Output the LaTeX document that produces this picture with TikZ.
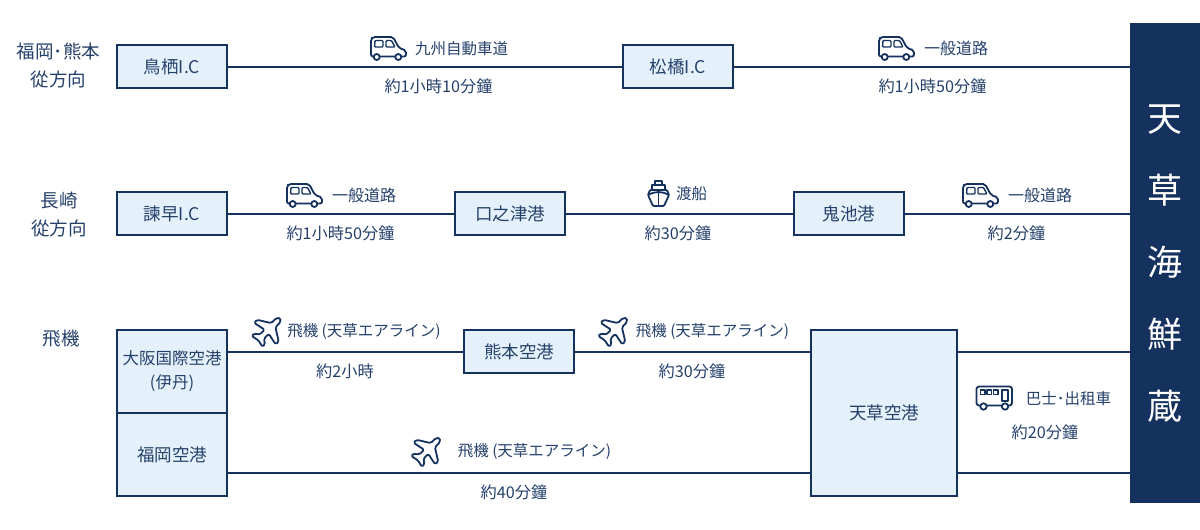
\documentclass[tikz,border=0pt]{standalone}
\usepackage{fontspec}
\setmainfont{Noto Sans CJK JP}
\usetikzlibrary{positioning}
\definecolor{navy}{HTML}{15325F}
\definecolor{ink}{HTML}{25406B}
\definecolor{pale}{HTML}{E4F1FA}
\tikzset{
    box/.style = {
        draw=navy,
        fill=pale,
        line width=2.4pt,
        text=ink,
        minimum width=109.6pt,
        minimum height=42.6pt,
        inner sep=0pt,
        align=center,
        font=\fontsize{17.5}{24}\selectfont
    },
    route/.style = {draw=navy, line width=2pt},
    lbl/.style = {text=ink, inner sep=0pt, text height=13pt, text depth=2.5pt, font=\fontsize{15.5}{20}\selectfont},
    timelbl/.style = {lbl, font=\fontsize{16.2}{20}\selectfont},
    side/.style = {text=ink, inner sep=0pt, align=center, font=\fontsize{18.5}{28}\selectfont},
    glyph/.style = {draw=navy, line width=1.8pt, line join=round, fill=white},
    carmark/.pic = {
        \path[glyph, rounded corners=2pt] (1,20.5) -- (1,3) -- (3,1) -- (23,1) -- (29,12) -- (36,14.5) -- (36,20.5) -- cycle;
        \path[glyph, line width=1.4pt, rounded corners=1pt] (5,4.5) -- (13,4.5) -- (13,11) -- (4.5,11) -- cycle;
        \path[glyph, line width=1.4pt, rounded corners=1pt] (16,4.5) -- (21.5,4.5) -- (25,11) -- (16,11) -- cycle;
        \path[glyph] (6.7,21) circle (3);
        \path[glyph] (28.3,21) circle (3);
    },
    shipmark/.pic = {
        \path[glyph] (7,0) rectangle (14,4);
        \path[glyph] (4,4) rectangle (17,9);
        \path[glyph, rounded corners=1pt] (2,9) -- (19,9) -- (21,14) -- (16,25) -- (5,25) -- (0,14) -- cycle;
        \path[glyph, fill=none] (0,14) .. controls (4,12) and (7,11) .. (10.5,11) .. controls (14,11) and (17,12) .. (21,14);
        \path[glyph, fill=none] (10.5,11) -- (10.5,25);
    },
    planemark/.pic = {
        \path[glyph, rotate=45, scale=.85, rounded corners=1.5pt] (20,0) -- (16,3.5) -- (8,3.5) -- (-1,18) -- (-6,18) -- (-3,3.5) -- (-11,3.5) -- (-15,9)
            -- (-19,9) -- (-17,0) -- (-19,-9) -- (-15,-9) -- (-11,-3.5) -- (-3,-3.5) -- (-6,-18) -- (-1,-18) -- (8,-3.5) -- (16,-3.5) -- cycle;
    },
    busmark/.pic = {
        \path[glyph, rounded corners=2.5pt] (0.5,0.5) rectangle (36,19.5);
        \path[glyph, line width=1.4pt] (4.5,4) rectangle (9,8.5);
        \path[glyph, line width=1.4pt] (11,4) rectangle (15.5,8.5);
        \path[glyph, line width=1.4pt] (17.5,4) rectangle (22,8.5);
        \path[glyph, line width=1.4pt] (26,4) rectangle (32,15);
        \path[glyph] (7.5,20.5) circle (3.2);
        \path[glyph] (29,20.5) circle (3.2);
    }
}
\begin{document}
\begin{tikzpicture}[x=1pt,y=-1pt]
    \useasboundingbox (0,0) rectangle (1200,530);

    % right panel
    \node[fill=navy, text=white, minimum width=70pt, minimum height=480pt, inner sep=0pt, align=center,
        font=\fontsize{35}{72}\selectfont, anchor=north west] (amakusa) at (1130,23) {天\\草\\海\\鮮\\蔵};

    % boxes
    \node[box, anchor=north west] (tosu) at (116,44) {鳥栖I.C};
    \node[box, right=394pt of tosu] (matsuhashi) {松橋I.C};
    \node[box, below=102pt of tosu] (isahaya) {諫早I.C};
    \node[box, right=226pt of isahaya] (kuchinotsu) {口之津港};
    \node[box, right=227pt of kuchinotsu] (oniike) {鬼池港};
    \node[box, below=93pt of isahaya, minimum height=82.8pt, font=\fontsize{16.5}{24}\selectfont] (itami) {大阪国際空港\\(伊丹)};
    \node[box, below=-2.4pt of itami, minimum height=82.8pt] (fukuoka) {福岡空港};
    \node[box, right=235pt of itami.north east, anchor=north west] (kumamoto) {熊本空港};
    \node[box, right=235pt of kumamoto.north east, anchor=north west, minimum width=145.6pt, minimum height=165.6pt] (airport) {天草空港};
    \coordinate (lowrow) at (0,473);

    % routes
    \draw[route] (tosu) -- (matsuhashi);
    \draw[route] (matsuhashi) -- (matsuhashi -| amakusa.west);
    \draw[route] (isahaya) -- (kuchinotsu);
    \draw[route] (kuchinotsu) -- (oniike);
    \draw[route] (oniike) -- (oniike -| amakusa.west);
    \draw[route] (itami.east |- kumamoto) -- (kumamoto);
    \draw[route] (kumamoto) -- (kumamoto -| airport.west);
    \draw[route] (airport.east |- kumamoto) -- (amakusa.west |- kumamoto);
    \draw[route] (fukuoka.east |- lowrow) -- (airport.west |- lowrow);
    \draw[route] (airport.east |- lowrow) -- (amakusa.west |- lowrow);

    % left captions
    \node[side] (fromfukuoka) at (58.5,65) {福岡･熊本\\從方向};
    \node[side] (fromnagasaki) at (59,215) {長崎\\從方向};
    \node[side] (byplane) at (61,339) {飛機};

    % row 1
    \pic at (370,36) {carmark};
    \node[lbl] (expressway) at (461.5,49) {九州自動車道};
    \node[timelbl] (time1) at (438.5,87) {約1小時10分鐘};
    \pic at (878,36) {carmark};
    \node[lbl, font=\fontsize{16}{20}\selectfont] (road1) at (956,49) {一般道路};
    \node[timelbl] (time2) at (932.5,87) {約1小時50分鐘};

    % row 2
    \pic at (286,183) {carmark};
    \node[lbl, font=\fontsize{16}{20}\selectfont] (road2) at (364,196) {一般道路};
    \node[timelbl] (time3) at (340.5,234) {約1小時50分鐘};
    \pic at (648,181) {shipmark};
    \node[lbl] (ferry) at (691.5,194) {渡船};
    \node[timelbl] (time4) at (678,234) {約30分鐘};
    \pic at (962,183) {carmark};
    \node[lbl, font=\fontsize{16}{20}\selectfont] (road3) at (1040,196) {一般道路};
    \node[timelbl] (time5) at (1016.5,234) {約2分鐘};

    % row 3
    \pic at (268.5,330) {planemark};
    \node[lbl] (flight1) at (364,331) {飛機 (天草エアライン)};
    \node[timelbl] (time6) at (345,372) {約2小時};
    \pic at (615,330) {planemark};
    \node[lbl] (flight2) at (712.5,331) {飛機 (天草エアライン)};
    \node[timelbl] (time7) at (692,372) {約30分鐘};
    \pic at (428,450) {planemark};
    \node[lbl] (flight3) at (534.5,451) {飛機 (天草エアライン)};
    \node[timelbl] (time8) at (514,493) {約40分鐘};
    \pic at (976,386) {busmark};
    \node[lbl] (taxi) at (1068.5,399) {巴士･出租車};
    \node[timelbl] (time9) at (1045,433) {約20分鐘};
\end{tikzpicture}
\end{document}
